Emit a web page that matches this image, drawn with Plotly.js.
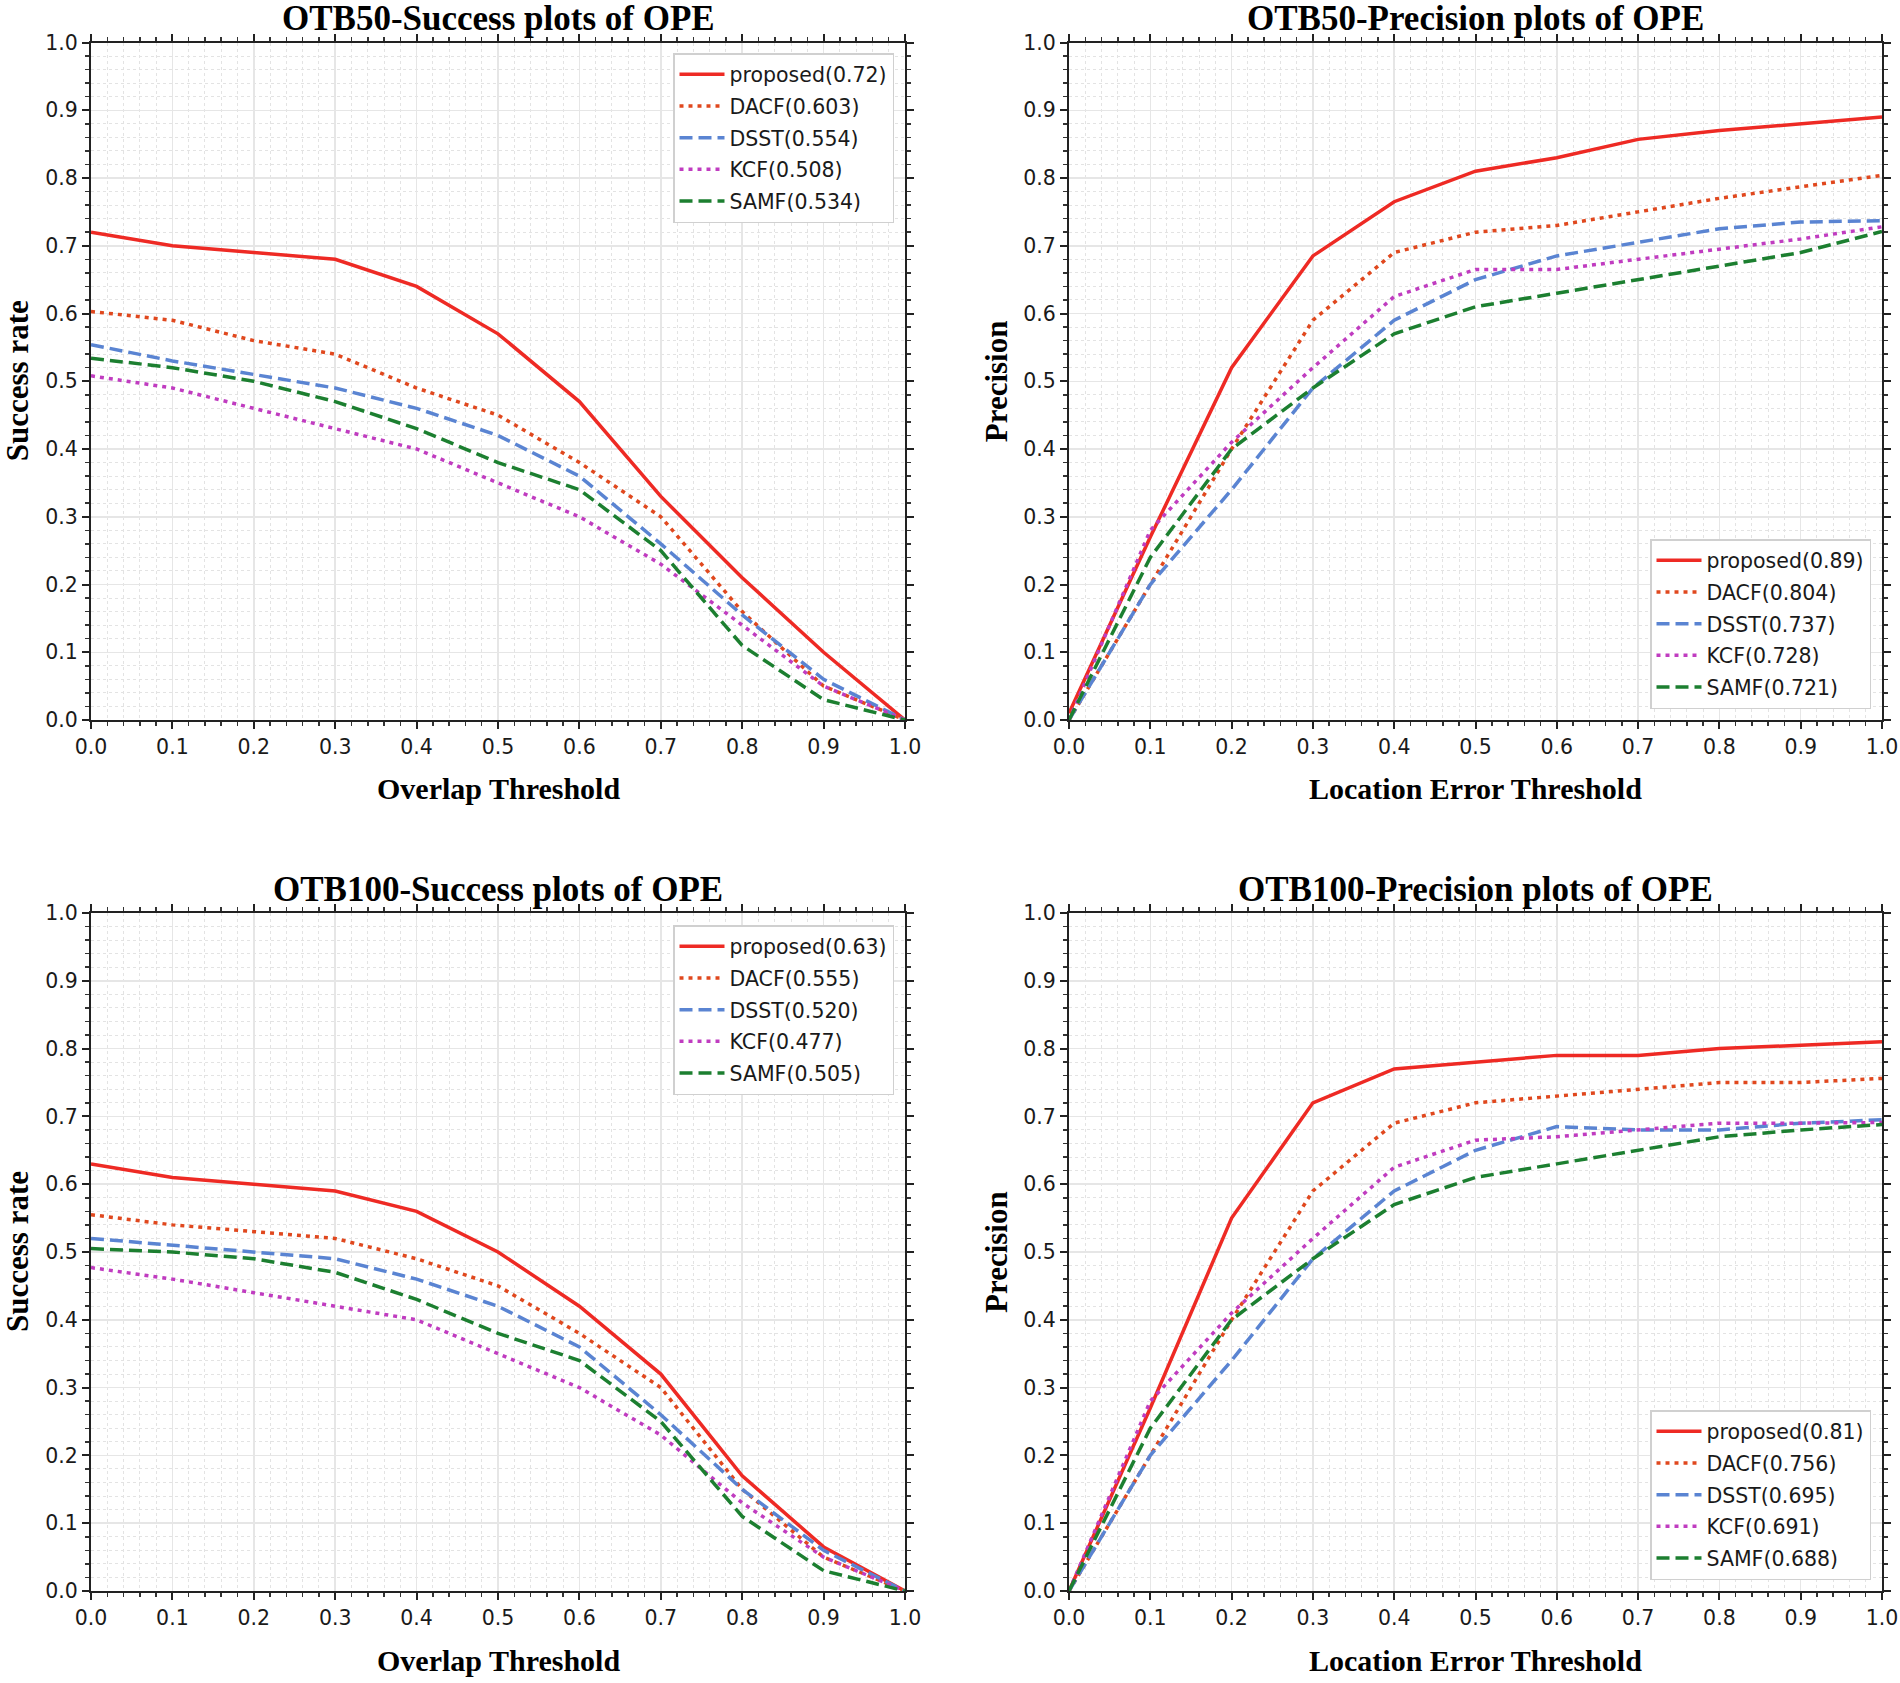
<!DOCTYPE html>
<html>
<head>
<meta charset="utf-8">
<script src="https://cdn.plot.ly/plotly-3.0.1.min.js"></script>
<style>html,body{margin:0;padding:0;background:#fff;}#chart{width:1900px;height:1683px;}</style>
</head>
<body>
<div id="chart"></div>
<script>
// ---------------- data ----------------
const thresholds = [0.0, 0.1, 0.2, 0.3, 0.4, 0.5, 0.6, 0.7, 0.8, 0.9, 1.0];
const methods = ['proposed', 'DACF', 'DSST', 'KCF', 'SAMF'];

// OTB50 success
const otb50SuccessScores = ['0.72', '0.603', '0.554', '0.508', '0.534'];
const otb50Success_proposed = [0.72, 0.70, 0.69, 0.68, 0.64, 0.57, 0.47, 0.33, 0.21, 0.10, 0.0];
const otb50Success_DACF     = [0.603, 0.59, 0.56, 0.54, 0.49, 0.45, 0.38, 0.30, 0.16, 0.05, 0.0];
const otb50Success_DSST     = [0.554, 0.53, 0.51, 0.49, 0.46, 0.42, 0.36, 0.26, 0.155, 0.06, 0.0];
const otb50Success_KCF      = [0.508, 0.49, 0.46, 0.43, 0.40, 0.35, 0.30, 0.23, 0.14, 0.05, 0.0];
const otb50Success_SAMF     = [0.534, 0.52, 0.50, 0.47, 0.43, 0.38, 0.34, 0.25, 0.11, 0.03, 0.0];

// OTB50 precision
const otb50PrecisionScores = ['0.89', '0.804', '0.737', '0.728', '0.721'];
const otb50Precision_proposed = [0.01, 0.27, 0.52, 0.685, 0.765, 0.81, 0.83, 0.857, 0.87, 0.88, 0.89];
const otb50Precision_DACF     = [0.0, 0.20, 0.40, 0.59, 0.69, 0.72, 0.73, 0.75, 0.77, 0.787, 0.804];
const otb50Precision_DSST     = [0.0, 0.20, 0.34, 0.49, 0.59, 0.65, 0.685, 0.705, 0.725, 0.735, 0.737];
const otb50Precision_KCF      = [0.0, 0.28, 0.41, 0.52, 0.625, 0.665, 0.665, 0.68, 0.695, 0.71, 0.728];
const otb50Precision_SAMF     = [0.0, 0.24, 0.40, 0.49, 0.57, 0.61, 0.63, 0.65, 0.67, 0.69, 0.721];

// OTB100 success
const otb100SuccessScores = ['0.63', '0.555', '0.520', '0.477', '0.505'];
const otb100Success_proposed = [0.63, 0.61, 0.60, 0.59, 0.56, 0.50, 0.42, 0.32, 0.17, 0.065, 0.0];
const otb100Success_DACF     = [0.555, 0.54, 0.53, 0.52, 0.49, 0.45, 0.38, 0.30, 0.15, 0.05, 0.0];
const otb100Success_DSST     = [0.520, 0.51, 0.50, 0.49, 0.46, 0.42, 0.36, 0.26, 0.15, 0.06, 0.0];
const otb100Success_KCF      = [0.477, 0.46, 0.44, 0.42, 0.40, 0.35, 0.30, 0.23, 0.13, 0.05, 0.0];
const otb100Success_SAMF     = [0.505, 0.50, 0.49, 0.47, 0.43, 0.38, 0.34, 0.25, 0.11, 0.03, 0.0];

// OTB100 precision
const otb100PrecisionScores = ['0.81', '0.756', '0.695', '0.691', '0.688'];
const otb100Precision_proposed = [0.0, 0.27, 0.55, 0.72, 0.77, 0.78, 0.79, 0.79, 0.80, 0.805, 0.81];
const otb100Precision_DACF     = [0.0, 0.20, 0.40, 0.59, 0.69, 0.72, 0.73, 0.74, 0.75, 0.75, 0.756];
const otb100Precision_DSST     = [0.0, 0.20, 0.34, 0.49, 0.59, 0.65, 0.685, 0.68, 0.68, 0.69, 0.695];
const otb100Precision_KCF      = [0.0, 0.28, 0.41, 0.52, 0.625, 0.665, 0.67, 0.68, 0.69, 0.69, 0.691];
const otb100Precision_SAMF     = [0.0, 0.24, 0.40, 0.49, 0.57, 0.61, 0.63, 0.65, 0.67, 0.68, 0.688];

const tickValues = [0.0, 0.1, 0.2, 0.3, 0.4, 0.5, 0.6, 0.7, 0.8, 0.9, 1.0];
const tickLabels = ['0.0', '0.1', '0.2', '0.3', '0.4', '0.5', '0.6', '0.7', '0.8', '0.9', '1.0'];

const panelTitles = ['OTB50-Success plots of OPE', 'OTB50-Precision plots of OPE',
                     'OTB100-Success plots of OPE', 'OTB100-Precision plots of OPE'];
const xTitles = ['Overlap Threshold', 'Location Error Threshold', 'Overlap Threshold', 'Location Error Threshold'];
const yTitles = ['Success rate', 'Precision', 'Success rate', 'Precision'];

// ---------------- styles ----------------
const styles = {
  proposed: {color: '#ee2a24', dash: 'solid', width: 3.5},
  DACF:     {color: '#e0481e', dash: '4px,5px', width: 3.5},
  DSST:     {color: '#5a84d2', dash: '13px,6px', width: 3.5},
  KCF:      {color: '#c03cc0', dash: '4px,5px', width: 3.5},
  SAMF:     {color: '#1c7f30', dash: '13px,6px', width: 3.5}
};

const panels = [
  {series: [otb50Success_proposed, otb50Success_DACF, otb50Success_DSST, otb50Success_KCF, otb50Success_SAMF], scores: otb50SuccessScores},
  {series: [otb50Precision_proposed, otb50Precision_DACF, otb50Precision_DSST, otb50Precision_KCF, otb50Precision_SAMF], scores: otb50PrecisionScores},
  {series: [otb100Success_proposed, otb100Success_DACF, otb100Success_DSST, otb100Success_KCF, otb100Success_SAMF], scores: otb100SuccessScores},
  {series: [otb100Precision_proposed, otb100Precision_DACF, otb100Precision_DSST, otb100Precision_KCF, otb100Precision_SAMF], scores: otb100PrecisionScores}
];

const W = 1900, H = 1683;
const xDomains = [[91 / W, 905 / W], [1069 / W, 1882 / W]];
const yDomains = [[1 - 720 / H, 1 - 42.5 / H], [1 - 1591 / H, 1 - 913 / H]];

const traces = [];
panels.forEach((p, i) => {
  const ax = i === 0 ? '' : String(i + 1);
  methods.forEach((m, k) => {
    traces.push({
      type: 'scatter', mode: 'lines',
      x: thresholds, y: p.series[k],
      name: m + '(' + p.scores[k] + ')',
      xaxis: 'x' + ax, yaxis: 'y' + ax,
      legend: i === 0 ? 'legend' : 'legend' + (i + 1),
      legendgroup: 'g' + i + '_' + k,
      line: {color: styles[m].color, dash: styles[m].dash, width: styles[m].width},
      hoverinfo: 'x+y+name'
    });
  });
});

const tickFont = {family: 'DejaVu Sans', size: 20.5, color: '#1a1a1a'};
function makeAxis(domain, anchor) {
  return {
    domain: domain, anchor: anchor, range: [0, 1], fixedrange: true,
    tickmode: 'array', tickvals: tickValues, ticktext: tickLabels,
    ticks: 'outside', ticklen: 7, tickwidth: 2, tickcolor: '#222',
    showline: true, linecolor: '#222', linewidth: 2, mirror: 'allticks',
    showgrid: true, gridcolor: '#e6e6e6', gridwidth: 1.5,
    zeroline: false, tickfont: tickFont,
    minor: {dtick: 0.02, tick0: 0, ticks: 'outside', ticklen: 4, tickwidth: 1.5, tickcolor: '#333',
            showgrid: true, gridcolor: '#e3e3e3', griddash: 'dot', gridwidth: 1}
  };
}

const layout = {
  width: W, height: H,
  margin: {l: 0, r: 0, t: 0, b: 0},
  paper_bgcolor: '#fff', plot_bgcolor: '#fff',
  showlegend: true,
  annotations: []
};

const legendPos = [
  {x: 894 / W, y: 1 - 53 / H, xanchor: 'right', yanchor: 'top'},
  {x: 1871 / W, y: 1 - 709 / H, xanchor: 'right', yanchor: 'bottom'},
  {x: 894 / W, y: 1 - 925 / H, xanchor: 'right', yanchor: 'top'},
  {x: 1871 / W, y: 1 - 1580 / H, xanchor: 'right', yanchor: 'bottom'}
];

panels.forEach((p, i) => {
  const col = i % 2, row = Math.floor(i / 2);
  const ax = i === 0 ? '' : String(i + 1);
  layout['xaxis' + ax] = makeAxis(xDomains[col], 'y' + ax);
  layout['yaxis' + ax] = makeAxis(yDomains[row], 'x' + ax);
  const lg = i === 0 ? 'legend' : 'legend' + (i + 1);
  layout[lg] = Object.assign({
    xref: 'paper', yref: 'paper',
    bgcolor: '#ffffff', bordercolor: '#d0d0d0', borderwidth: 1.5,
    font: {family: 'DejaVu Sans', size: 20.5, color: '#1a1a1a'},
    tracegroupgap: 2, itemwidth: 45
  }, legendPos[i]);

  const xc = (xDomains[col][0] + xDomains[col][1]) / 2;
  const yTop = row === 0 ? 1 - 18 / H : 1 - 889 / H;
  const yXt = row === 0 ? 1 - 789 / H : 1 - 1660 / H;
  const yc = (yDomains[row][0] + yDomains[row][1]) / 2;
  const xYt = col === 0 ? 17 / W : 996 / W;
  const serif = (s) => ({family: 'Liberation Serif', size: s, color: '#000', weight: 700});
  layout.annotations.push(
    {text: panelTitles[i], xref: 'paper', yref: 'paper', x: xc, y: yTop, xanchor: 'center', yanchor: 'middle', showarrow: false, font: serif(35)},
    {text: xTitles[i], xref: 'paper', yref: 'paper', x: xc, y: yXt, xanchor: 'center', yanchor: 'middle', showarrow: false, font: serif(30)},
    {text: yTitles[i], xref: 'paper', yref: 'paper', x: xYt, y: yc, xanchor: 'center', yanchor: 'middle', textangle: -90, showarrow: false, font: serif(31)}
  );
});

Plotly.newPlot('chart', traces, layout, {staticPlot: true, displayModeBar: false});
</script>
</body>
</html>
